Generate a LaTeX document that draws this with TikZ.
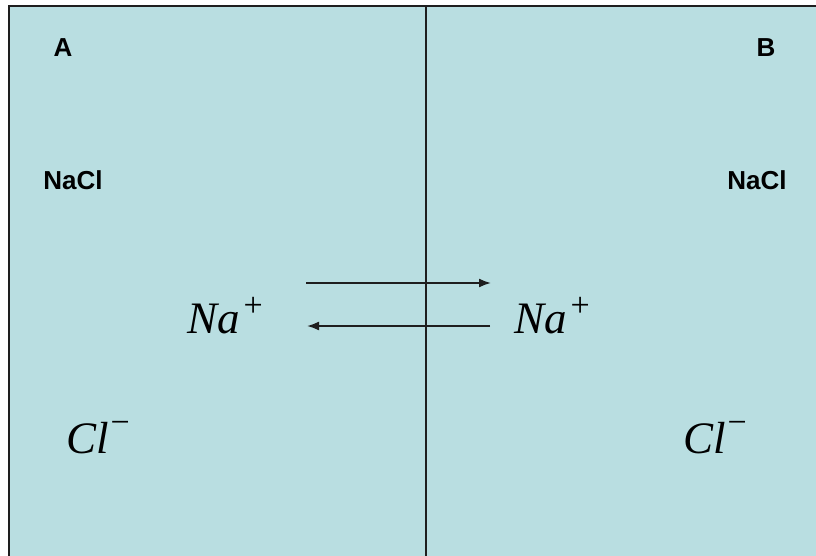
\documentclass[tikz,border=0pt]{standalone}
\usepackage{fontspec}
\setmainfont{Liberation Serif}
\newfontfamily\labelfont{Liberation Sans}
\usetikzlibrary{arrows.meta}
\definecolor{pool}{RGB}{185,222,225}
\definecolor{ink}{RGB}{30,30,30}
\newcommand{\plussup}{\hspace{4pt}\raisebox{17pt}{\upshape\fontsize{34}{34}\selectfont +}}
\newcommand{\minussup}{\hspace{2pt}\raisebox{20pt}{\upshape\fontsize{34}{34}\selectfont −}}
\begin{document}
\begin{tikzpicture}[x=1pt,y=-1pt,
  lab/.style={font=\labelfont\bfseries\fontsize{26}{30}\selectfont, text=black, inner sep=0pt},
  ion/.style={font=\fontsize{45}{48}\selectfont\itshape, text=black, inner sep=0pt, anchor=base west},
  flow/.style={ink, line width=1.8pt, -{Latex[length=12pt,width=9pt]}}]
\useasboundingbox (0,0) rectangle (816,556);
\fill[white] (0,0) rectangle (816,556);
\fill[pool] (9,6) rectangle (830,570);
\draw[ink, line width=2pt] (9,570) -- (9,6) -- (830,6);
\coordinate (dtop) at (426,6);
\coordinate (dbot) at (426,570);
\draw[ink, line width=1.5pt] (dtop) -- (dbot);
\node[lab] (A) at (63,48) {A};
\node[lab] (B) at (766,48) {B};
\node[lab] (naclA) at (73,180) {NaCl};
\node[lab] (naclB) at (757,180) {NaCl};
\node[ion] (naA) at (187,333) {Na\plussup};
\node[ion] (naB) at (514,333) {Na\plussup};
\node[ion] (clA) at (66,453) {Cl\minussup};
\node[ion] (clB) at (683,453) {Cl\minussup};
\coordinate (t1) at (306,283);
\coordinate (t2) at (491,283);
\coordinate (b1) at (490,326);
\coordinate (b2) at (307,326);
\draw[flow] (t1) -- (t2);
\draw[flow] (b1) -- (b2);
\end{tikzpicture}
\end{document}
